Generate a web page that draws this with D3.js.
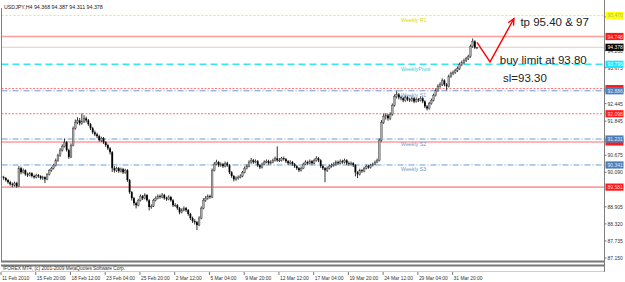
<!DOCTYPE html>
<html><head><meta charset="utf-8">
<script src="https://cdn.jsdelivr.net/npm/d3@7"></script>
<style>html,body{margin:0;padding:0;background:#fff;}svg{display:block;}</style>
</head><body>
<script>
// ---------- DATA ----------
const symbolTitle = "USDJPY,H4  94.368 94.387 94.311 94.378";
const copyright = "IFOREX MT4, (c) 2001-2009 MetaQuotes Software Corp.";
const dateLabels = ["11 Feb 2010","15 Feb 20:00","18 Feb 12:00","23 Feb 04:00","25 Feb 20:00","2 Mar 12:00","5 Mar 04:00","9 Mar 20:00","12 Mar 12:00","17 Mar 04:00","19 Mar 20:00","24 Mar 12:00","29 Mar 04:00","31 Mar 20:00"];
const dateLabelBars = [0,16,32,48,64,80,96,112,128,144,160,176,192,208];
const priceTicks = [95.430,94.260,93.675,92.445,91.845,90.675,90.090,88.905,88.320,87.735,87.150];

const closes = [89.92,89.89,89.82,89.75,89.68,89.65,89.72,89.61,90.23,90.09,90.16,90.02,89.99,90.06,89.96,89.92,89.99,89.96,89.89,89.92,
89.85,90.02,90.16,90.23,90.33,90.50,90.67,90.85,90.98,91.12,90.85,90.61,91.02,91.60,91.80,91.87,91.77,91.84,91.94,91.87,
91.74,91.60,91.46,91.39,91.33,91.19,91.26,91.12,91.02,90.91,90.78,90.23,90.16,90.23,90.13,90.20,90.09,90.16,89.82,89.41,
89.20,89.03,88.96,89.13,89.27,89.20,89.31,89.13,88.90,88.93,89.13,89.20,89.27,89.24,89.31,89.20,89.17,89.24,89.13,88.96,
88.96,88.86,88.72,88.79,88.86,88.79,88.66,88.52,88.42,88.38,88.28,88.52,88.86,89.13,89.20,89.27,89.24,90.16,90.37,90.44,
90.33,90.37,90.30,90.40,90.33,90.09,89.96,89.85,89.89,89.92,89.96,90.09,90.23,90.30,90.44,90.50,90.44,90.47,90.33,90.26,
90.37,90.44,90.47,90.40,90.44,90.50,90.57,90.50,90.50,90.57,90.54,90.47,90.40,90.44,90.37,90.30,90.23,90.16,90.23,90.37,
90.44,90.40,90.47,90.40,90.50,90.57,90.50,90.30,90.23,90.16,90.23,90.30,90.33,90.37,90.44,90.40,90.47,90.44,90.50,90.40,
90.37,90.40,90.33,90.09,90.02,90.16,90.13,90.23,90.30,90.26,90.33,90.37,90.44,90.50,91.19,91.80,92.01,92.04,91.94,92.08,
92.39,92.69,92.76,92.66,92.63,92.56,92.66,92.59,92.56,92.63,92.52,92.59,92.56,92.63,92.52,92.35,92.28,92.45,92.56,92.73,
92.90,93.04,93.10,93.24,93.10,93.04,93.38,93.48,93.52,93.58,93.65,93.79,93.86,93.93,93.99,94.06,94.41,94.58,94.368,94.378];
const opens = [89.95,89.92,89.89,89.82,89.75,89.68,89.65,89.72,89.61,90.23,90.09,90.16,90.02,89.99,90.06,89.96,89.92,89.99,89.96,89.89,
89.92,89.85,90.02,90.16,90.23,90.33,90.50,90.67,90.85,90.98,91.12,90.85,90.61,91.02,91.60,91.80,91.87,91.77,91.84,91.94,
91.87,91.74,91.60,91.46,91.39,91.33,91.19,91.26,91.12,91.02,90.91,90.78,90.23,90.16,90.23,90.13,90.20,90.09,90.16,89.82,
89.41,89.20,89.03,88.96,89.13,89.27,89.20,89.31,89.13,88.90,88.93,89.13,89.20,89.27,89.24,89.31,89.20,89.17,89.24,89.13,
88.96,88.96,88.86,88.72,88.79,88.86,88.79,88.66,88.52,88.42,88.38,88.28,88.52,88.86,89.13,89.20,89.27,89.24,90.16,90.37,
90.44,90.33,90.37,90.30,90.40,90.33,90.09,89.96,89.85,89.89,89.92,89.96,90.09,90.23,90.30,90.44,90.50,90.44,90.47,90.33,
90.26,90.37,90.44,90.47,90.40,90.44,90.50,90.57,90.50,90.50,90.57,90.54,90.47,90.40,90.44,90.37,90.30,90.23,90.16,90.23,
90.37,90.44,90.40,90.47,90.40,90.50,90.57,90.50,90.30,90.23,90.16,90.23,90.30,90.33,90.37,90.44,90.40,90.47,90.44,90.50,
90.40,90.37,90.40,90.33,90.09,90.02,90.16,90.13,90.23,90.30,90.26,90.33,90.37,90.44,90.50,91.19,91.80,92.01,92.04,91.94,
92.08,92.39,92.69,92.76,92.66,92.63,92.56,92.66,92.59,92.56,92.63,92.52,92.59,92.56,92.63,92.52,92.35,92.28,92.45,92.56,
92.73,92.90,93.04,93.10,93.24,93.10,93.04,93.38,93.48,93.52,93.58,93.65,93.79,93.86,93.93,93.99,94.06,94.41,94.58,94.368];
const highs = [90.00,89.97,89.93,89.86,89.80,89.74,89.77,89.76,90.30,90.28,90.22,90.19,90.08,90.10,90.09,90.01,90.04,90.03,89.99,89.97,
89.95,90.06,90.20,90.28,90.38,90.56,90.73,90.92,91.05,91.25,91.16,90.90,91.08,91.66,91.90,91.98,91.95,92.11,92.05,92.00,
91.92,91.78,91.65,91.52,91.45,91.38,91.31,91.30,91.16,91.07,90.95,90.82,90.30,90.28,90.27,90.25,90.24,90.21,90.20,89.86,
89.45,89.25,89.08,89.18,89.33,89.31,89.37,89.34,89.17,88.99,89.18,89.26,89.33,89.33,89.38,89.35,89.25,89.30,89.28,89.17,
89.03,89.00,88.90,88.85,88.92,88.90,88.83,88.70,88.57,88.48,88.42,88.58,88.92,89.20,89.27,89.33,89.32,90.22,90.44,90.52,
90.48,90.43,90.41,90.46,90.45,90.37,90.13,90.00,89.95,89.98,90.02,90.14,90.29,90.36,90.50,90.58,90.55,90.53,90.51,90.37,
90.42,90.50,90.53,90.52,90.50,90.56,90.63,90.98,90.58,90.62,90.63,90.58,90.51,90.50,90.48,90.41,90.34,90.27,90.29,90.42,
90.50,90.49,90.53,90.51,90.56,90.64,90.61,90.54,90.35,90.27,90.29,90.36,90.39,90.43,90.50,90.49,90.53,90.52,90.56,90.54,
90.46,90.46,90.44,90.37,90.13,90.21,90.20,90.28,90.35,90.34,90.38,90.42,90.49,90.56,91.25,91.88,92.10,92.12,92.09,92.15,
92.45,92.76,92.90,92.81,92.72,92.68,92.72,92.70,92.65,92.69,92.67,92.65,92.64,92.69,92.67,92.56,92.40,92.51,92.62,92.79,
92.97,93.11,93.18,93.31,93.28,93.15,93.44,93.54,93.58,93.64,93.72,93.85,93.92,93.99,94.05,94.12,94.47,94.68,94.62,94.387];
const lows = [89.86,89.83,89.77,89.70,89.63,89.58,89.60,89.56,89.59,90.02,90.05,89.97,89.93,89.95,89.91,89.87,89.88,89.90,89.84,89.83,
89.72,89.82,89.98,90.11,90.19,90.29,90.45,90.62,90.80,90.94,90.80,90.55,90.58,90.98,91.55,91.74,91.70,91.72,91.78,91.80,
91.68,91.54,91.40,91.33,91.26,91.14,91.13,91.06,90.96,90.85,90.70,90.10,90.08,90.10,90.07,90.08,90.03,90.04,89.76,89.35,
89.12,88.95,88.85,88.92,89.09,89.14,89.16,89.08,88.78,88.84,88.90,89.09,89.16,89.18,89.20,89.15,89.11,89.13,89.08,88.90,
88.90,88.80,88.65,88.68,88.75,88.73,88.60,88.45,88.35,88.30,88.11,88.24,88.48,88.82,89.08,89.15,89.18,89.20,90.12,90.33,
90.27,90.28,90.24,90.26,90.28,90.03,89.90,89.78,89.80,89.84,89.88,89.92,90.05,90.19,90.26,90.39,90.38,90.40,90.27,90.20,
90.22,90.33,90.40,90.35,90.36,90.40,90.46,90.45,90.44,90.46,90.49,90.41,90.34,90.36,90.31,90.24,90.17,90.10,90.12,90.20,
90.33,90.34,90.36,90.35,90.37,90.46,90.44,90.24,90.17,89.75,90.10,90.19,90.25,90.28,90.32,90.34,90.36,90.38,90.39,90.34,
90.31,90.32,90.27,89.95,89.89,89.98,90.07,90.09,90.19,90.21,90.22,90.29,90.33,90.40,90.46,91.14,91.75,91.90,91.86,91.88,
92.03,92.34,92.62,92.59,92.56,92.49,92.51,92.53,92.50,92.51,92.46,92.48,92.50,92.52,92.46,92.29,92.21,92.24,92.41,92.52,
92.69,92.85,92.99,93.05,93.04,92.90,93.00,93.33,93.42,93.47,93.53,93.60,93.73,93.80,93.87,93.94,94.02,94.36,94.32,94.311];

// horizontal levels (value + name); styles are assigned in code below
const pivotNames  = ["Weekly R1","WeeklyPivot","Weekly S1","Weekly S2","Weekly S3"];
const pivotValues = [95.470, 93.796, 92.886, 91.231, 90.341];
const redLevels   = [94.748, 92.960, 92.098, 91.130, 89.581];
const redLevelKinds = ["solid","dot","dot","solid","solid"];
const redLevelLabelShown = [true,false,true,false,true];
const bidPrice = 94.378;

const noteTexts = ["tp 95.40 & 97","buy limit at 93.80","sl=93.30"];
const notePrices = [95.12, 93.82, 93.18];
const noteBars = [239, 229.5, 231];
const arrowBars = [219, 225, 236];
const arrowPrices = [94.55, 93.88, 95.36];

// ---------- DRAW ----------
const W = 625, H = 282;
const svg = d3.select("body").append("svg").attr("width", W).attr("height", H)
  .style("font-family", "'Liberation Sans', Arial, sans-serif");
svg.append("rect").attr("width", W).attr("height", H).attr("fill", "#fff");

const plotLeft = 1.5, plotRight = 604.5, plotTop = 0, plotBottom = 261.5;
const y = d3.scaleLinear().domain([87.150, 94.748]).range([258, 36.5]);
const x = d3.scaleLinear().domain([0, 219]).range([1.5, 477]);

svg.append("defs").append("clipPath").attr("id","clip").append("rect")
  .attr("x", plotLeft).attr("y", plotTop).attr("width", plotRight-plotLeft).attr("height", plotBottom-plotTop);
const plot = svg.append("g").attr("clip-path","url(#clip)");

// level lines
const gl = plot.append("g");
const pivotStyle = [
  {stroke:"#f2f200", dash:"2,2", w:1, tc:"#d8d800"},
  {stroke:"#33e6f2", dash:"7,4", w:1.6, tc:"#33ccdd"},
  {stroke:"#6a9bd1", dash:"6,2,1,2", w:1, tc:"#6a9bd1"},
  {stroke:"#6a9bd1", dash:"6,2,1,2", w:1, tc:"#6a9bd1"},
  {stroke:"#6a9bd1", dash:"6,2,1,2", w:1, tc:"#6a9bd1"}
];
redLevels.forEach((v,i)=>{
  const solid = redLevelKinds[i]==="solid";
  gl.append("line").attr("x1",plotLeft).attr("x2",plotRight)
    .attr("y1",y(v)).attr("y2",y(v))
    .attr("stroke", solid ? "#ff9c9c" : "#ff7070")
    .attr("stroke-width", solid ? 1.6 : 1)
    .attr("stroke-dasharray", solid ? null : "2,1.5");
});
gl.append("line").attr("x1",plotLeft).attr("x2",plotRight)
  .attr("y1",y(bidPrice)).attr("y2",y(bidPrice))
  .attr("stroke","#d8bfb0").attr("stroke-width",0.8);
pivotValues.forEach((v,i)=>{
  const s = pivotStyle[i];
  gl.append("line").attr("x1",plotLeft).attr("x2",plotRight)
    .attr("y1",y(v)).attr("y2",y(v))
    .attr("stroke", s.stroke).attr("stroke-width", s.w).attr("stroke-dasharray", s.dash);
  gl.append("text").attr("x", 401).attr("y", y(v)+6.5)
    .attr("font-size", 5.3).attr("fill", s.tc).text(pivotNames[i]);
});

// candles
const bars = closes.map((c,i)=>({i, o:opens[i], h:highs[i], l:lows[i], c}));
const gc = plot.append("g");
gc.selectAll("line.wick").data(bars).join("line")
  .attr("x1", d=>x(d.i)).attr("x2", d=>x(d.i))
  .attr("y1", d=>y(d.h)).attr("y2", d=>y(d.l))
  .attr("stroke", "#333").attr("stroke-width", 1);
gc.selectAll("rect.body").data(bars).join("rect")
  .attr("x", d=>x(d.i)-0.9).attr("width", 1.8)
  .attr("y", d=>y(Math.max(d.o,d.c)))
  .attr("height", d=>Math.max(0.6, Math.abs(y(d.o)-y(d.c))))
  .attr("fill", d=> d.c>=d.o ? "#a8a8a8" : "#000")
  .attr("stroke", d=> d.c>=d.o ? "#444" : "none").attr("stroke-width",0.4);

// annotations
const ga = svg.append("g");
const arrowPts = arrowBars.map((b,i)=>[x(b), y(arrowPrices[i])]);
ga.append("path").attr("d", d3.line()(arrowPts)).attr("fill","none")
  .attr("stroke","#ff0000").attr("stroke-width",1.4);
{
  const p1 = arrowPts[1], p2 = arrowPts[2];
  const ang = Math.atan2(p2[1]-p1[1], p2[0]-p1[0]);
  const L = 7, a = 0.45;
  const h1 = [p2[0]-L*Math.cos(ang-a), p2[1]-L*Math.sin(ang-a)];
  const h2 = [p2[0]-L*Math.cos(ang+a), p2[1]-L*Math.sin(ang+a)];
  ga.append("path").attr("d", d3.line()([h1,p2,h2])).attr("fill","none")
    .attr("stroke","#ff0000").attr("stroke-width",1.4);
}
noteTexts.forEach((t,i)=>{
  ga.append("text").attr("x", x(noteBars[i])).attr("y", y(notePrices[i]))
    .attr("font-size", 11.5).attr("fill","#222").text(t);
});

// frame
const gf = svg.append("g");
gf.append("line").attr("x1",plotLeft).attr("x2",plotLeft).attr("y1",8).attr("y2",plotBottom)
  .attr("stroke","#808080").attr("stroke-width",1);
gf.append("line").attr("x1",plotRight).attr("x2",plotRight).attr("y1",0).attr("y2",272)
  .attr("stroke","#808080").attr("stroke-width",1);
gf.append("rect").attr("x",plotLeft-0.5).attr("y",260.5).attr("width",plotRight-plotLeft+0.5).attr("height",2).attr("fill","#777");
gf.append("rect").attr("x",plotLeft-0.5).attr("y",264.5).attr("width",plotRight-plotLeft+0.5).attr("height",2).attr("fill","#777");
gf.append("line").attr("x1",plotLeft).attr("x2",plotRight).attr("y1",271.5).attr("y2",271.5)
  .attr("stroke","#999").attr("stroke-width",1).attr("stroke-dasharray","1,1");
gf.append("text").attr("x",3).attr("y",270).attr("font-size",4.8).attr("fill","#333").text(copyright);

svg.append("text").attr("x",4).attr("y",8.5).attr("font-size",5.3).attr("fill","#222").text(symbolTitle);

// right axis ticks
const ax = svg.append("g").attr("font-size",5).attr("fill","#333");
priceTicks.forEach(v=>{
  ax.append("line").attr("x1",plotRight).attr("x2",plotRight+2).attr("y1",y(v)).attr("y2",y(v)).attr("stroke","#555").attr("stroke-width",0.8);
  ax.append("text").attr("x",plotRight+3).attr("y",y(v)+2).text(v.toFixed(3));
});
// value boxes
function box(v, fill, tcol, showText){
  const g = svg.append("g");
  g.append("rect").attr("x",plotRight+1).attr("y",y(v)-3.6).attr("width",18).attr("height",7.2).attr("fill",fill);
  if (showText) g.append("text").attr("x",plotRight+3).attr("y",y(v)+2).attr("font-size",5).attr("fill",tcol).text(v.toFixed(3));
}
redLevels.forEach((v,i)=>box(v,"#ff1a1a","#ffd0d0",redLevelLabelShown[i]));
box(pivotValues[0],"#ffff00","#b0b0b0",true);
box(pivotValues[1],"#1ae6ff","#e0ffff",true);
box(pivotValues[2],"#4a7fb8","#e0e8ff",true);
box(pivotValues[3],"#4a7fb8","#e0e8ff",true);
box(pivotValues[4],"#4a7fb8","#e0e8ff",true);
box(bidPrice,"#000","#fff",true);

// bottom date axis
const dx = svg.append("g").attr("font-size",4.9).attr("fill","#333");
dateLabels.forEach((t,i)=>{
  const xx = x(dateLabelBars[i]);
  dx.append("line").attr("x1",xx-0.5).attr("x2",xx-0.5).attr("y1",272).attr("y2",275).attr("stroke","#555").attr("stroke-width",0.8);
  dx.append("text").attr("x",xx+0.5).attr("y",279.5).text(t);
});
</script>
</body></html>
